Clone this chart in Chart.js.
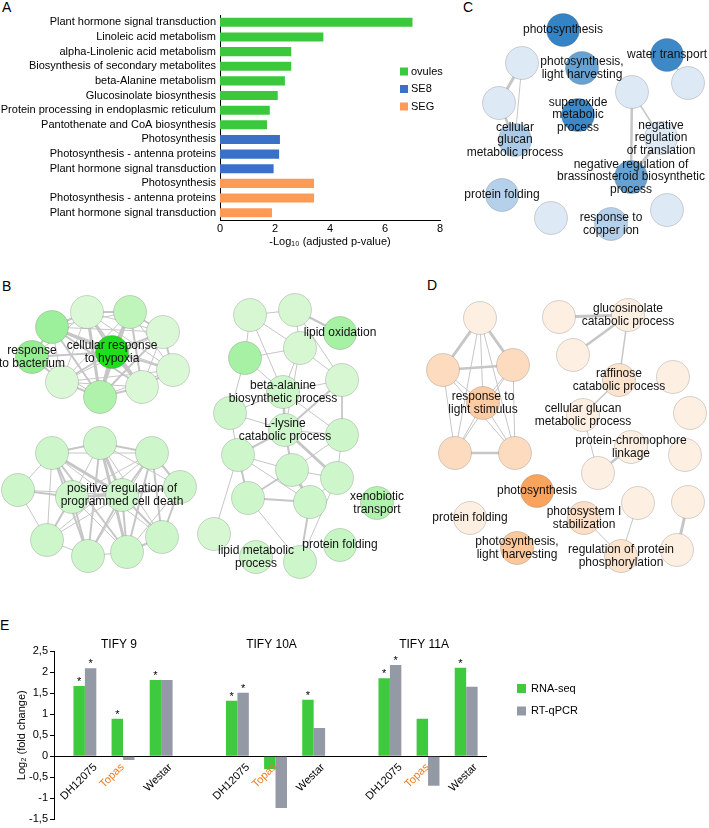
<!DOCTYPE html>
<html>
<head>
<meta charset="utf-8">
<script src="https://cdn.jsdelivr.net/npm/chart.js@4.4.1/dist/chart.umd.min.js"></script>
<style>
  body { margin: 0; background: #fff; width: 709px; height: 828px; position: relative; overflow: hidden; font-family: "Liberation Sans", Arial, sans-serif; }
  canvas { position: absolute; }
  .tag { position: absolute; font-size: 14px; line-height: 14px; color: #000; }
</style>
</head>
<body>
<div class="tag" style="left:2px;top:0px">A</div>
<div class="tag" style="left:2px;top:279px">B</div>
<div class="tag" style="left:463px;top:0px">C</div>
<div class="tag" style="left:427px;top:278px">D</div>
<div class="tag" style="left:0px;top:618px">E</div>

<canvas id="netB" width="425" height="300" style="left:0;top:280px;width:425px;height:300px"></canvas>
<canvas id="netC" width="260" height="250" style="left:449px;top:0;width:260px;height:250px"></canvas>
<canvas id="netD" width="284" height="300" style="left:425px;top:280px;width:284px;height:300px"></canvas>
<canvas id="chartA" width="460" height="252" style="left:0;top:0;width:460px;height:252px"></canvas>
<canvas id="chartE" width="709" height="238" style="left:0;top:590px;width:709px;height:238px"></canvas>

<script>
const fam = '"Liberation Sans", Arial, sans-serif';
Chart.defaults.font.family = fam;
Chart.defaults.color = '#000';

// ---- panel A data
const pathways = ['Plant hormone signal transduction', 'Linoleic acid metabolism', 'alpha-Linolenic acid metabolism',
  'Biosynthesis of secondary metabolites', 'beta-Alanine metabolism', 'Glucosinolate biosynthesis',
  'Protein processing in endoplasmic reticulum', 'Pantothenate and CoA biosynthesis',
  'Photosynthesis', 'Photosynthesis - antenna proteins', 'Plant hormone signal transduction',
  'Photosynthesis', 'Photosynthesis - antenna proteins', 'Plant hormone signal transduction'];
const ovules = [7.0, 3.76, 2.59, 2.59, 2.36, 2.10, 1.81, 1.71];
const se8 = [2.18, 2.15, 1.95];
const seg = [3.42, 3.42, 1.89];
const groupNames = ['ovules', 'SE8', 'SEG'];
const groupColors = ['#3cc83c', '#3a70c8', '#fd9a55'];

// ---- panel E data
const genes = ['TIFY 9', 'TIFY 10A', 'TIFY 11A'];
const lines = ['DH12075', 'Topas', 'Westar'];
const rnaSeq = [1.67, 0.89, 1.81, 1.32, -0.30, 1.34, 1.85, 0.89, 2.10];
const rtqpcr = [2.09, -0.09, 1.81, 1.51, -1.23, 0.67, 2.17, -0.70, 1.65];
const rnaSig = [1, 1, 1, 1, 0, 1, 1, 0, 1];
const qpcrSig = [1, 0, 0, 1, 0, 0, 1, 0, 0];
const yTicksE = [-1.5, 2.5, 0.5];

// ---- networks: nodes [x, y, enrichment], edges [from, to, weight]
const bNodes = [
  [52,327,0.35],[87,312,0.04],[130,312,0.18],[163,332,0.04],[173,370,0.04],[142,387,0.04],[100,397,0.26],[62,382,0.04],[32,357,0.4],[112,352,1],
  [52,453,0.1],[100,443,0.1],[152,453,0.1],[180,487,0.1],[18,490,0.1],[72,497,0.1],[122,495,0.1],[47,540,0.1],[88,556,0.1],[127,552,0.1],[162,537,0.1],
  [250,315,0.06],[295,310,0.06],[340,333,0.3],[300,348,0.06],[245,358,0.3],[342,380,0.06],[283,392,0.1],[230,413,0.1],[285,430,0.1],[342,435,0.1],
  [238,455,0.1],[292,470,0.1],[337,478,0.1],[248,498,0.1],[310,502,0.1],[214,534,0.06],[256,557,0.1],[300,562,0.1],[377,503,0.25],[340,545,0.15]
];
const bEdges = [
  [0,1,2],[0,2,1],[0,3,1],[0,4,1],[0,5,2],[0,6,2],[0,7,1],[0,8,2],[0,9,3],
  [1,2,2],[1,3,1],[1,4,1],[1,5,2],[1,6,3],[1,7,1],[1,8,1],[1,9,2],
  [2,3,2],[2,4,1],[2,5,2],[2,6,2],[2,7,1],[2,9,3],
  [3,4,2],[3,5,1],[3,6,2],[3,7,1],[3,9,2],
  [4,5,2],[4,6,1],[4,7,1],[4,9,2],
  [5,6,2],[5,7,1],[5,9,3],[6,7,2],[6,8,1],[6,9,3],[7,8,2],[7,9,2],[8,9,2],
  [10,11,2],[10,12,1],[10,14,1],[10,15,2],[10,16,3],[10,17,1],[10,18,2],[10,19,2],[10,20,1],
  [11,12,2],[11,13,1],[11,15,1],[11,16,3],[11,18,2],[11,19,3],[11,20,1],
  [12,13,2],[12,15,1],[12,16,2],[12,17,1],[12,18,1],[12,19,2],[12,20,2],
  [13,16,2],[13,19,1],[13,20,2],[13,15,1],[14,15,2],[14,17,1],[14,16,1],
  [15,16,2],[15,17,2],[15,18,2],[15,19,1],[16,18,2],[16,19,2],[16,20,2],[16,17,1],[17,18,1],[18,19,1],[19,20,2],
  [21,22,1],[21,24,1],[21,25,1],[21,27,1],[22,24,1],[22,23,2.5],[22,26,1],[24,25,1],[24,26,1],[24,27,1],[24,29,1],
  [25,27,1],[25,28,1],[26,27,1],[26,30,1],[26,29,2],[27,28,1],[27,29,2.5],[27,30,1],[28,29,1],[28,31,1],
  [29,30,1],[29,31,2],[29,32,2],[29,33,3],[30,33,1],[30,32,1],[31,32,1],[31,34,2],[31,35,1],[32,33,1],
  [32,34,2],[32,35,3],[33,35,1],[34,35,2],[34,38,1],[35,38,2],[33,38,1],[31,36,1]
];
const bLabels = [[8, ['response', 'to bacterium']], [9, ['cellular response', 'to hypoxia']],
  [16, ['positive regulation of', 'programmed cell death']], [23, ['lipid oxidation']],
  [27, ['beta-alanine', 'biosynthetic process']], [29, ['L-lysine', 'catabolic process']],
  [37, ['lipid metabolic', 'process']], [39, ['xenobiotic', 'transport']], [40, ['protein folding']]];

const cNodes = [
  [563,30,1],[522,63,0],[582,68,0.7],[667,55,0.95],[688,83,0],[499,103,0],[578,115,0.95],[632,92,0],
  [515,140,0.3],[661,138,0],[631,177,0.7],[502,195,0.25],[551,218,0],[611,224,0.25],[667,210,0]
];
const cEdges = [[1,5,3],[1,8,1],[5,8,2.5],[7,10,2.5],[7,9,1.5],[9,10,3],[3,4,1.5]];
const cLabels = [[0, ['photosynthesis']], [2, ['photosynthesis,', 'light harvesting']], [3, ['water transport']],
  [6, ['superoxide', 'metabolic', 'process']], [8, ['cellular', 'glucan', 'metabolic process']],
  [9, ['negative', 'regulation', 'of translation']],
  [10, ['negative regulation of', 'brassinosteroid biosynthetic', 'process']],
  [11, ['protein folding']], [13, ['response to', 'copper ion']]];

const dNodes = [
  [480,318,0.05],[443,370,0.3],[513,365,0.3],[483,403,0.5],[455,453,0.3],[515,453,0.3],
  [559,317,0.05],[628,315,0.05],[573,355,0.05],[619,380,0.2],[673,377,0.05],[583,415,0.05],
  [690,413,0.05],[631,447,0.05],[685,455,0.05],[598,473,0.05],
  [537,491,1],[470,518,0.05],[584,518,0.25],[638,503,0.05],[688,502,0.05],[517,548,0.55],[621,556,0.2],[677,550,0.05]
];
const dEdges = [
  [0,1,3],[0,2,3],[0,3,1],[0,4,1],[0,5,1],[1,2,2.5],[1,3,1],[1,4,1],[1,5,1],[2,3,1],[2,4,1],[2,5,1],
  [3,4,1],[3,5,1],[4,5,2.5],
  [6,7,3],[7,8,2.5],[7,9,1.5],[9,11,1.5],[11,15,1],[15,13,2.5],[18,22,1],[19,22,1],[20,23,3]
];
const dLabels = [[3, ['response to', 'light stimulus']], [7, ['glucosinolate', 'catabolic process']],
  [9, ['raffinose', 'catabolic process']], [11, ['cellular glucan', 'metabolic process']],
  [13, ['protein-chromophore', 'linkage']], [16, ['photosynthesis']], [17, ['protein folding']],
  [18, ['photosystem I', 'stabilization']], [21, ['photosynthesis,', 'light harvesting']],
  [22, ['regulation of protein', 'phosphorylation']]];

// ---------------- panel A
const pad = (vals, start) => pathways.map((_, i) => (i >= start && i < start + vals.length) ? vals[i - start] : null);

const legendA = {
  id: 'legendA',
  afterDraw(chart) {
    const ctx = chart.ctx;
    ctx.save();
    ctx.font = '11px ' + fam;
    ctx.textBaseline = 'middle';
    groupNames.forEach((name, i) => {
      const cy = 71.5 + i * 17.5;
      ctx.fillStyle = groupColors[i];
      ctx.fillRect(400, cy - 4, 8, 8);
      ctx.fillStyle = '#000';
      ctx.fillText(name, 411, cy);
    });
    ctx.restore();
  }
};

new Chart(document.getElementById('chartA'), {
  type: 'bar',
  data: {
    labels: pathways,
    datasets: [
      { label: groupNames[0], data: pad(ovules, 0), backgroundColor: groupColors[0] },
      { label: groupNames[1], data: pad(se8, 8), backgroundColor: groupColors[1] },
      { label: groupNames[2], data: pad(seg, 11), backgroundColor: groupColors[2] }
    ]
  },
  options: {
    indexAxis: 'y',
    responsive: false,
    animation: false,
    events: [],
    layout: { padding: { top: 15, right: 20, bottom: 0, left: 0 } },
    datasets: { bar: { grouped: false, categoryPercentage: 1, barPercentage: 0.62 } },
    scales: {
      x: {
        min: 0, max: 8,
        ticks: { stepSize: 2, font: { size: 11 }, color: '#000', padding: 2 },
        grid: { display: false, drawTicks: false },
        border: { color: '#000' },
        title: { display: true, text: '-Log₁₀ (adjusted p-value)', font: { size: 11 }, color: '#000', padding: { top: 0, bottom: 3 } },
        afterFit: s => { s.height = 32; }
      },
      y: {
        ticks: { font: { size: 11 }, color: '#000', padding: 4, autoSkip: false },
        grid: { display: false, drawTicks: false },
        border: { color: '#000' },
        afterFit: s => { s.width = 220; }
      }
    },
    plugins: { legend: { display: false }, tooltip: { enabled: false } }
  },
  plugins: [legendA]
});

// ---------------- networks B, C, D
function mix(a, b, t) {
  return 'rgb(' + a.map((v, i) => Math.round(v + (b[i] - v) * t)).join(',') + ')';
}

function network(id, left, top, nodes, edges, labels, pale, strong) {
  const el = document.getElementById(id);
  const labelPlugin = {
    id: 'nodeLabels',
    afterDatasetsDraw(chart) {
      const { ctx, scales: { x, y } } = chart;
      ctx.save();
      ctx.font = '12px ' + fam;
      ctx.fillStyle = '#111';
      ctx.textAlign = 'center';
      ctx.textBaseline = 'middle';
      labels.forEach(([i, txt]) => {
        const px = x.getPixelForValue(nodes[i][0]);
        const py = y.getPixelForValue(nodes[i][1]);
        txt.forEach((t, k) => ctx.fillText(t, px, py + (k - (txt.length - 1) / 2) * 12.5));
      });
      ctx.restore();
    }
  };
  const edgeSets = edges.map(([a, b, w]) => ({
    type: 'line',
    data: [{ x: nodes[a][0], y: nodes[a][1] }, { x: nodes[b][0], y: nodes[b][1] }],
    borderColor: '#c6c6c6',
    borderWidth: w,
    pointRadius: 0,
    fill: false,
    order: 1
  }));
  new Chart(el, {
    type: 'bubble',
    data: {
      datasets: [{
        data: nodes.map(n => ({ x: n[0], y: n[1] })),
        radius: 16.5,
        backgroundColor: nodes.map(n => mix(pale, strong, n[2])),
        borderColor: 'rgba(90,90,90,0.25)',
        borderWidth: 1,
        order: 0
      }].concat(edgeSets)
    },
    options: {
      responsive: false,
      animation: false,
      events: [],
      layout: { padding: 0, autoPadding: false },
      scales: {
        x: { type: 'linear', display: false, min: left, max: left + el.width },
        y: { type: 'linear', display: false, reverse: true, min: top, max: top + el.height }
      },
      plugins: { legend: { display: false }, tooltip: { enabled: false } }
    },
    plugins: [labelPlugin]
  });
}

network('netB', 0, 280, bNodes, bEdges, bLabels, [226, 249, 222], [30, 222, 30]);
network('netC', 449, 0, cNodes, cEdges, cLabels, [222, 233, 246], [52, 131, 196]);
network('netD', 425, 280, dNodes, dEdges, dLabels, [253, 243, 233], [249, 163, 92]);

// ---------------- panel E
const xPos = rnaSeq.map((_, i) => Math.floor(i / 3) * 4 + i % 3);
const eColors = ['#3ec93e', '#9399a5'];
const eNames = ['RNA-seq', 'RT-qPCR'];
const labelShift = [-6, -11, -3];

const decorE = {
  id: 'decorE',
  afterDraw(chart) {
    const { ctx, scales: { x, y } } = chart;
    const zero = y.getPixelForValue(0);
    ctx.save();
    ctx.fillStyle = '#000';
    ctx.textAlign = 'center';
    ctx.textBaseline = 'middle';
    ctx.font = '12px ' + fam;
    genes.forEach((g, gi) => ctx.fillText(g, x.getPixelForValue(gi * 4 + 1) - 4, 55));

    // rotated cultivar labels
    ctx.font = '11px ' + fam;
    xPos.forEach((v, i) => {
      const name = lines[i % 3];
      const w = ctx.measureText(name).width;
      const d = (w + 9) * Math.SQRT1_2 / 2;
      ctx.save();
      ctx.translate(x.getPixelForValue(v) + labelShift[i % 3], zero + 6 + d);
      ctx.rotate(-Math.PI / 4);
      ctx.fillStyle = name === 'Topas' ? '#f07a1e' : '#000';
      ctx.fillText(name, 0, 0);
      ctx.restore();
    });

    // significance stars
    ctx.textBaseline = 'alphabetic';
    [rnaSig, qpcrSig].forEach((sig, di) => {
      chart.getDatasetMeta(di).data.forEach((bar, i) => {
        if (sig[i]) ctx.fillText('*', bar.x, bar.y - 1);
      });
    });

    // legend
    ctx.textAlign = 'left';
    ctx.textBaseline = 'middle';
    eNames.forEach((n, i) => {
      const top = 94 + i * 22.5;
      ctx.fillStyle = eColors[i];
      ctx.fillRect(517, top, 9, 9);
      ctx.fillStyle = '#000';
      ctx.fillText(n, 531, top + 4.5);
    });
    ctx.restore();
  }
};

new Chart(document.getElementById('chartE'), {
  type: 'bar',
  data: {
    datasets: [
      { label: eNames[0], data: rnaSeq.map((v, i) => ({ x: xPos[i], y: v })), backgroundColor: eColors[0] },
      { label: eNames[1], data: rtqpcr.map((v, i) => ({ x: xPos[i], y: v })), backgroundColor: eColors[1] }
    ]
  },
  options: {
    responsive: false,
    animation: false,
    events: [],
    layout: { padding: { top: 61, right: 223, bottom: 6, left: 0 } },
    datasets: { bar: { categoryPercentage: 0.6, barPercentage: 1 } },
    scales: {
      x: {
        type: 'linear',
        offset: false,
        position: { y: 0 },
        min: -0.81, max: 10.52,
        afterBuildTicks: s => { s.ticks = xPos.map(v => ({ value: v })); },
        ticks: { display: false },
        grid: { display: false, drawTicks: false, offset: false },
        border: { display: true, color: '#000' },
        afterFit: s => { s.height = 0; }
      },
      y: {
        min: yTicksE[0], max: yTicksE[1],
        ticks: {
          stepSize: yTicksE[2],
          font: { size: 11 }, color: '#000', padding: 2,
          callback: v => String(v).replace('.', ',')
        },
        grid: { display: true, drawOnChartArea: false, drawTicks: true, tickLength: 4, color: '#000' },
        border: { display: true, color: '#000' },
        title: { display: true, text: 'Log₂ (fold change)', font: { size: 11 }, color: '#000', padding: { top: 15, bottom: 0 } },
        afterFit: s => { s.width = 54; }
      }
    },
    plugins: { legend: { display: false }, tooltip: { enabled: false } }
  },
  plugins: [decorE]
});
</script>
</body>
</html>
